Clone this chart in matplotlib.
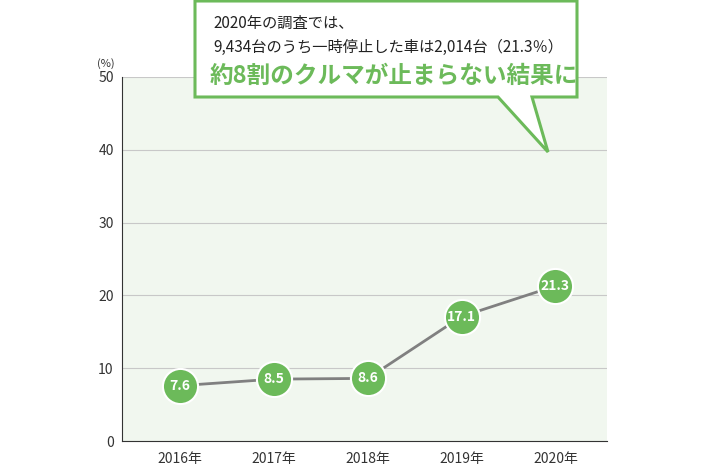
import matplotlib
matplotlib.use("Agg")
import matplotlib.pyplot as plt
from matplotlib.patches import Polygon

years = ["2016年", "2017年", "2018年", "2019年", "2020年"]
values = [7.6, 8.5, 8.6, 17.1, 21.3]
yticks = [0, 10, 20, 30, 40, 50]

W, H = 710, 465
fig = plt.figure(figsize=(W/100, H/100), dpi=100)
font = "Noto Sans CJK JP"
plt.rcParams["font.family"] = font

ax = fig.add_axes([122/W, 1-441/H, (607-122)/W, (441-77)/H])
ax.set_facecolor("#f1f7ef")
x = list(range(len(years)))
ax.plot(x, values, color="#808080", lw=2, zorder=2)
ax.scatter(x, values, s=640, color="#6cba5a", edgecolor="white", linewidth=1.5, zorder=3)
for xi, v in zip(x, values):
    ax.text(xi, v, f"{v}", ha="center", va="center", color="white",
            fontsize=10, fontweight="bold", zorder=4)
ax.set_xlim(-0.62, 4.55)
ax.set_ylim(0, 50)
ax.set_yticks(yticks)
ax.set_xticks(x)
ax.set_xticklabels(years)
ax.grid(axis="y", color="#c8c8c8", lw=0.8)
ax.set_axisbelow(True)
for s in ["top", "right"]:
    ax.spines[s].set_visible(False)
ax.spines["left"].set_color("#333333")
ax.spines["bottom"].set_color("#333333")
ax.tick_params(axis="both", length=0, labelsize=10, colors="#333333", pad=6)
ax.tick_params(axis="x", pad=8)
fig.text(97/W, 1-64/H, "(%)", fontsize=8, color="#333333", va="center")

# callout
def P(px, py):
    return (px/W, 1-py/H)
pts = [P(195, 1), P(577, 1), P(577, 97), P(532, 97), P(548, 152), P(498, 97), P(195, 97)]
fig.patches.append(Polygon(pts, closed=True, transform=fig.transFigure,
                           facecolor="white", edgecolor="#6cba5a", lw=2.2, zorder=5))
fig.text(213/W, 1-23/H, "2020年の調査では、", fontsize=11, color="#222222", va="center", zorder=10)
fig.text(213/W, 1-47/H, "9,434台のうち一時停止した車は2,014台（21.3％）", fontsize=11,
         color="#222222", va="center", zorder=10)
fig.text(210/W, 1-76/H, "約8割のクルマが止まらない結果に", fontsize=17, fontweight="bold",
         color="#6cba5a", va="center", zorder=10)

fig.savefig("out.png", dpi=100)
